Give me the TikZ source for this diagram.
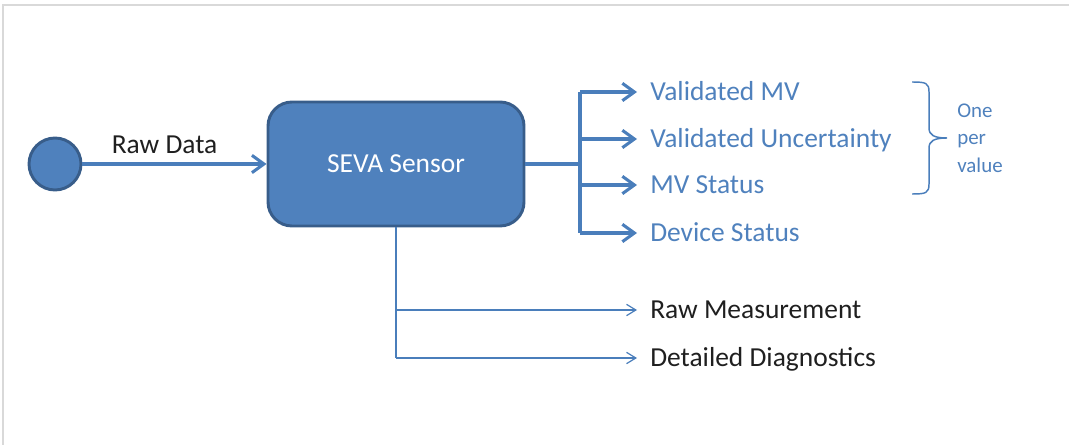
\documentclass[tikz,border=0pt]{standalone}
\usepackage{fontspec}
\setmainfont{Carlito}
\usetikzlibrary{arrows.meta}
\definecolor{sevafill}{HTML}{4F81BD}
\definecolor{sevaline}{HTML}{385D8A}
\definecolor{sevablue}{HTML}{4A7EBB}
\definecolor{frame}{HTML}{D9D9D9}
\tikzset{
  every node/.style={font=\fontsize{20.6pt}{24pt}\selectfont},
  startdot/.style={circle, fill=sevafill, draw=sevaline, line width=2.2pt, minimum size=39pt, inner sep=0pt},
  sensorbox/.style={rectangle, rounded corners=18pt, fill=sevafill, draw=sevaline, line width=2.2pt,
    minimum width=192pt, minimum height=93pt, text=white},
  mainflow/.style={draw=sevablue, line width=2.3pt, -{Straight Barb[length=9pt,width=13pt]}},
  mainbus/.style={draw=sevablue, line width=2.3pt},
  sideflow/.style={draw=sevablue, line width=0.9pt, -{Straight Barb[length=7pt,width=8.5pt]}},
  sidebus/.style={draw=sevablue, line width=0.9pt},
  outlabel/.style={anchor=west, inner xsep=9.75pt, inner ysep=0pt, text height=13pt, text depth=0pt},
  bluelabel/.style={outlabel, text=sevafill},
  darklabel/.style={outlabel, text=black!88},
}
\begin{document}
\begin{tikzpicture}[x=0.75pt, y=-0.75pt]
  \useasboundingbox (0,0) rectangle (1069,445);
  % light frame along the top and left edges
  \draw[frame, line width=1.5pt] (2.5,445) -- (2.5,5.5) -- (1069,5.5);

  % source and sensor
  \node[startdot] (src) at (55,164) {};
  \node[sensorbox] (sensor) at (396,164) {SEVA Sensor};
  \draw[mainflow] (src) -- node[pos=0.446, above=3pt, text=black!88] (rawlbl) {Raw Data} (sensor);

  % main outputs
  \coordinate (bus) at (580,164);
  \coordinate (busTop) at (580,92);
  \coordinate (busBot) at (580,233);
  \coordinate (b1) at (580,92);
  \coordinate (b2) at (580,139);
  \coordinate (b3) at (580,185);
  \coordinate (b4) at (580,233);
  \node[bluelabel] (o1) at (637,92) {Validated MV};
  \node[bluelabel] (o2) at (637,139) {Validated Uncertainty};
  \node[bluelabel] (o3) at (637,185) {MV Status};
  \node[bluelabel] (o4) at (637,233) {Device Status};
  \draw[mainbus] (sensor.east |- bus) -- (bus);
  \draw[mainbus] (busTop) -- (busBot);
  \draw[mainflow] (b1) -- (o1.west);
  \draw[mainflow] (b2) -- (o2.west);
  \draw[mainflow] (b3) -- (o3.west);
  \draw[mainflow] (b4) -- (o4.west);

  % brace grouping the per-value outputs
  \draw[sevablue, line width=1.1pt]
    (912,82) .. controls (926,82) and (929,83) .. (929,92) -- (929,128)
    .. controls (929,135) and (934,138) .. (947,138)
    .. controls (934,138) and (929,141) .. (929,148) -- (929,184)
    .. controls (929,193) and (926,194) .. (912,194);
  \node[anchor=west, align=left, text=sevafill, inner sep=0pt,
        font=\fontsize{15.7pt}{20.6pt}\selectfont] (pervalue) at (957,138) {One\\per\\value};

  % secondary outputs
  \coordinate (s1) at (396,310);
  \coordinate (s2) at (396,358);
  \node[darklabel] (r1) at (637,310) {Raw Measurement};
  \node[darklabel] (r2) at (637,358) {Detailed Diagnostics};
  \draw[sidebus] (sensor.south) -- (s2);
  \draw[sideflow] (s1) -- (r1.west);
  \draw[sideflow] (s2) -- (r2.west);
\end{tikzpicture}
\end{document}
